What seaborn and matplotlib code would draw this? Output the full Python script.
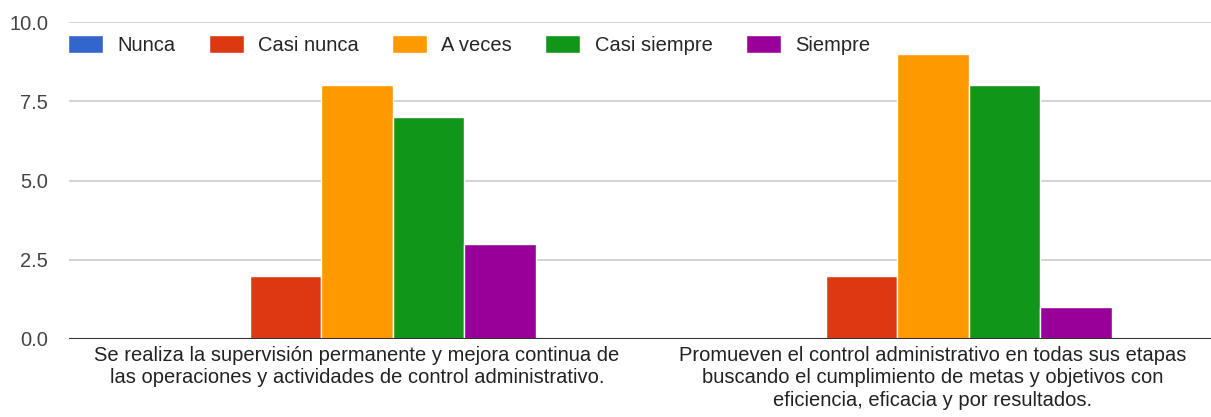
import matplotlib
matplotlib.use("Agg")
import matplotlib.pyplot as plt
import seaborn as sns
import pandas as pd

# data
questions = [
    "Se realiza la supervisión permanente y mejora continua de\nlas operaciones y actividades de control administrativo.",
    "Promueven el control administrativo en todas sus etapas\nbuscando el cumplimiento de metas y objetivos con\neficiencia, eficacia y por resultados.",
]
answers = ["Nunca", "Casi nunca", "A veces", "Casi siempre", "Siempre"]
counts_q1 = [0, 2, 8, 7, 3]
counts_q2 = [0, 2, 9, 8, 1]
colors = ["#3366cc", "#dc3912", "#ff9900", "#109618", "#990099"]
yticks = [0.0, 2.5, 5.0, 7.5, 10.0]

rows = []
for q, vals in zip(questions, [counts_q1, counts_q2]):
    for a, v in zip(answers, vals):
        rows.append({"pregunta": q, "respuesta": a, "n": v})
df = pd.DataFrame(rows)

sns.set_style("white")
plt.rcParams["font.family"] = ["Liberation Sans", "DejaVu Sans"]
fs = 14.5

fig = plt.figure(figsize=(12.11, 4.17), dpi=100)
ax = fig.add_axes([69 / 1211, 1 - 339 / 417, 1 - 69 / 1211, (339 - 22) / 417])

sns.barplot(data=df, x="pregunta", y="n", hue="respuesta", hue_order=answers,
            palette=colors, width=0.62, edgecolor="white", linewidth=1,
            saturation=1, ax=ax, zorder=3)

ax.set_xlim(-0.5, 1.5 - 10 / 576)
ax.set_ylim(0, 10)
ax.set_yticks(yticks)
ax.set_yticklabels([f"{t:.1f}" for t in yticks], fontsize=fs, color="#444444")
ax.set_xticks([0, 1])
ax.set_xticklabels(questions, fontsize=fs, color="#222222", linespacing=1.22)
ax.tick_params(axis="x", length=0, pad=5)
ax.tick_params(axis="y", length=0, pad=15)
ax.set_xlabel("")
ax.set_ylabel("")
for t in yticks[1:]:
    ax.axhline(t, color="#cccccc", linewidth=1.2, zorder=1)
ax.axhline(0, color="#333333", linewidth=1.5, zorder=4)
for s in ax.spines.values():
    s.set_visible(False)

ax.legend(loc="upper left", bbox_to_anchor=(-0.001, 0.958), ncol=5, frameon=False,
          fontsize=fs, handlelength=1.75, handleheight=0.95, columnspacing=1.65,
          handletextpad=0.7, borderaxespad=0, borderpad=0)

fig.savefig("out.png", dpi=100)
